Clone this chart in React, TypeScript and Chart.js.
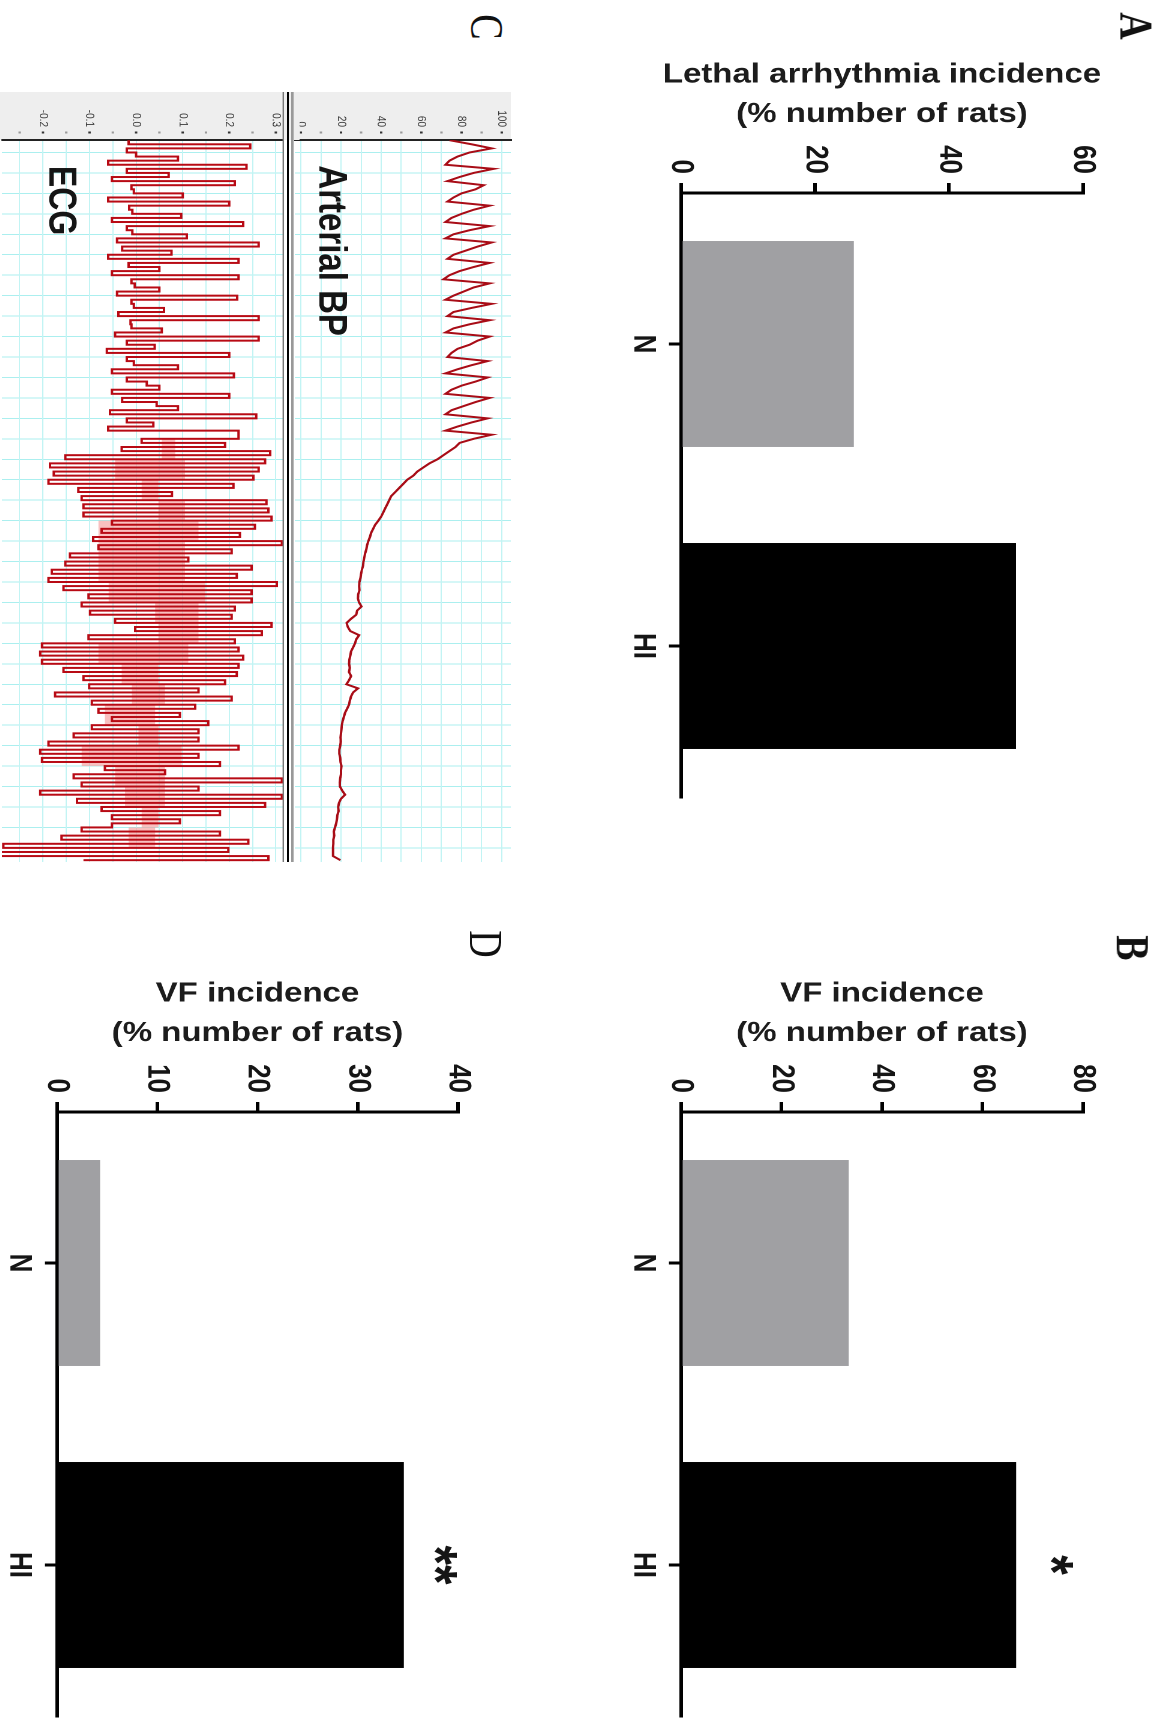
import React, { useEffect, useRef } from "react";
import { Chart, registerables } from "chart.js";

Chart.register(...registerables);

// ---------- bar panels ----------
const groups = ["N", "HI"];
const lethalValues = [25.8, 50];
const vfValuesB = [33.4, 66.7];
const vfValuesD = [4.3, 34.6];
const barColors = ["#a0a0a3", "#000000"];
const lethalTitle = ["Lethal arrhythmia incidence", "(% number of rats)"];
const vfTitle = ["VF incidence", "(% number of rats)"];

// ---------- trace panel (time in grid divisions, one sample every 0.2) ----------
const TRACE_START = -0.6;
const TRACE_STEP = 0.2;
const bpValues = [
  74, 85, 95, 84, 78, 74, 72, 96, 86, 79, 73, 91, 87, 80, 76, 73, 94, 86, 80, 75, 72, 94, 84, 76, 72,
  95, 88, 82, 76, 73, 94, 86, 79, 74, 71, 94, 86, 81, 76, 72, 95, 85, 76, 73, 94, 84, 76, 72,
  94, 88, 84, 78, 75, 73, 93, 85, 78, 72, 93, 87, 80, 75, 72, 94, 87, 81, 75, 72, 93, 85, 78, 72,
  95, 86, 79, 77, 74, 71, 68, 64, 61, 58, 56, 53, 51, 49, 47, 45, 44, 43, 42, 41, 40, 38.6, 37, 36, 35,
  34.4, 33.6, 33, 32.6, 32, 31.6, 31.2, 31, 30.4, 30, 29.7, 29.2, 29, 29.2, 28.6, 28.4, 29, 30.2, 28, 27.6,
  25, 22.8, 23.4, 24.6, 29, 27.6, 27, 26, 25, 24.6, 24.2, 24, 24.4, 24, 25, 24, 22.7, 28.5, 26, 25, 24.4,
  24, 23, 22, 21.4, 20.8, 20.4, 20.2, 20, 19.8, 19.9, 19.6, 19.2, 19.2, 19.6, 19.8, 20.2, 20, 20, 19.6,
  19.4, 19.5, 20.6, 22, 20, 19, 18.6, 18.8, 18.2, 18, 17.6, 17, 16.4, 16.6, 16.2, 16.2, 16, 16, 16, 19.7,
];
const ecgValues = [
  -0.016, 0.245, -0.02, 0.0, 0.09, -0.06, 0.237, -0.02, 0.07, -0.052, 0.212, -0.01, -0.005, 0.1, -0.06, 0.2,
  -0.015, -0.008, 0.097, -0.052, 0.23, -0.02, -0.008, 0.109, -0.041, 0.263, -0.03, 0.076, -0.06, 0.22,
  -0.016, 0.05, -0.052, 0.22, -0.01, -0.003, 0.05, -0.041, 0.217, -0.01, -0.005, 0.06, -0.038, 0.263,
  -0.012, -0.01, 0.055, -0.045, 0.263, -0.02, 0.04, -0.063, 0.2, -0.02, -0.005, 0.09, -0.052, 0.21,
  -0.02, 0.023, 0.05, -0.052, 0.2, -0.03, 0.044, 0.09, -0.056, 0.258, -0.02, 0.037, -0.06, 0.22,
  0.22, 0.012, 0.191, -0.031, 0.288, -0.152, 0.277, -0.185, 0.263, -0.177, 0.252, -0.188, 0.209, -0.124,
  0.077, -0.117, 0.28, -0.113, 0.284, -0.113, 0.291, -0.052, 0.255, -0.074, 0.223, -0.092, 0.313, -0.081,
  0.205, -0.142, 0.112, -0.152, 0.248, -0.181, 0.216, -0.188,
  0.302, -0.156, 0.248, -0.102, 0.248, -0.117, 0.212, -0.099, 0.205, -0.045, 0.291, -0.002, 0.27, -0.102,
  0.212, -0.202, 0.22, -0.206, 0.23, -0.202, 0.22, -0.156, 0.216, -0.113, 0.191, -0.101, 0.134, -0.174,
  0.205, -0.095, 0.127, -0.081, 0.094, -0.052, 0.155, -0.095, 0.134, -0.134, 0.134, -0.188, 0.22, -0.206,
  0.134, -0.202, 0.18,
  -0.067, 0.062, -0.134, 0.313, -0.117, 0.134, -0.206, 0.313, -0.127, 0.277, -0.074, 0.18, -0.052, 0.094,
  -0.052, -0.117, 0.18, -0.16, 0.241, -0.285, 0.198, -0.292, 0.284, -0.113,
];
// dense pink band of the fibrillation part, one pair per grid division
const SHADE_START = 14;
const ecgShadeHigh = [0.084, 0.105, 0.048, 0.105, 0.134, 0.105, 0.105, 0.148, 0.134, 0.134, 0.112, 0.048, 0.062, 0.041, 0.048, 0.098, 0.062, 0.062, 0.048, 0.041, 0.105];
const ecgShadeLow = [0.055, -0.045, 0.012, 0.048, -0.081, -0.081, -0.081, -0.059, 0.041, 0.048, -0.081, -0.031, -0.009, -0.067, 0.005, -0.117, -0.045, -0.024, 0.012, -0.016, -0.117];

const SANS = "'Liberation Sans', Arial, sans-serif";
const SERIF = "'Liberation Serif', serif";
const INK = "#151515";
const GRID_TIME = "#abefef";
const GRID_VALUE = "#c2f4f4";

type Mark = { text: string; x: number; y: number; size: number; weight?: string; dy?: number };

function marksPlugin(marks: Mark[]) {
  return {
    id: "textMarks",
    afterDatasetsDraw(chart: any) {
      const { ctx, scales } = chart;
      ctx.save();
      ctx.fillStyle = INK;
      ctx.textAlign = "center";
      ctx.textBaseline = "middle";
      for (const m of marks) {
        ctx.font = `${m.weight || "normal"} ${m.size}px ${SANS}`;
        ctx.fillText(m.text, scales.x.getPixelForValue(m.x), scales.y.getPixelForValue(m.y) + (m.dy || 0));
      }
      ctx.restore();
    },
  };
}

function barConfig(values: number[], title: string[], max: number, step: number, padTop: number, marks: Mark[], padRight: number) {
  return {
    type: "bar",
    data: {
      labels: groups,
      datasets: [{ data: values, backgroundColor: barColors, borderWidth: 0, categoryPercentage: 1, barPercentage: 0.682 }],
    },
    plugins: [marksPlugin(marks)],
    options: {
      animation: false,
      responsive: false,
      devicePixelRatio: 2,
      layout: { padding: { top: padTop, right: padRight, left: 0, bottom: 0 } },
      plugins: { legend: { display: false }, tooltip: { enabled: false }, title: { display: false } },
      scales: {
        x: {
          offset: true,
          grid: { offset: false, drawOnChartArea: false, color: "#000", lineWidth: 3, tickLength: 10 },
          border: { color: "#000", width: 3 },
          ticks: { color: INK, font: { family: SANS, size: 26, weight: "bold" }, padding: 6, maxRotation: 0, minRotation: 0, autoSkip: false },
          afterFit: (s: any) => { s.height = 65.8; },
        },
        y: {
          min: 0,
          max,
          grid: { drawOnChartArea: false, color: "#000", lineWidth: 3, tickLength: 10 },
          border: { color: "#000", width: 3 },
          ticks: { stepSize: step, color: INK, font: { family: SANS, size: 26, weight: "bold" }, padding: 9, autoSkip: false },
          title: {
            display: true,
            text: title,
            color: "#1c1c1c",
            font: { family: SANS, size: 27.5, weight: "bold", lineHeight: 1.43 },
            padding: { top: 55.5, bottom: 0 },
          },
          afterFit: (s: any) => { s.width = 193; },
        },
      },
    },
  };
}

function traceExtras(separators: boolean) {
  return {
    id: "traceExtras",
    beforeDraw(chart: any) {
      const { ctx, chartArea, height } = chart;
      const top = separators ? 0 : chartArea.top;
      ctx.save();
      ctx.fillStyle = "#eeeeee";
      ctx.fillRect(0, top, chartArea.left, height - top);
      ctx.restore();
    },
    afterDraw(chart: any) {
      const { ctx, chartArea, scales } = chart;
      ctx.save();
      for (const t of scales.y.ticks) {
        ctx.fillStyle = t.label ? "#333333" : "#999999";
        ctx.fillRect(chartArea.left - 8.5, scales.y.getPixelForValue(t.value) - 1, 2, 2);
      }
      if (separators) {
        const top = chartArea.top;
        ctx.fillStyle = "#777777";
        ctx.fillRect(0, top - 1, chartArea.right, 1.2);
        ctx.fillStyle = "#000000";
        ctx.fillRect(0, top - 5, chartArea.right, 1.5);
        ctx.fillStyle = "#999999";
        ctx.fillRect(0, top - 9, chartArea.right, 2);
      }
      ctx.restore();
    },
  };
}

const toPoints = (vals: number[], start: number, step: number) => vals.map((y, i) => ({ x: start + i * step, y }));
// the plot runs a little past the last labelled tick: restore its range and drop the ticks beyond it
const clampScale = (lo: number, hi: number) => (s: any) => {
  s.min = lo;
  s.max = hi;
  s.ticks = s.ticks.filter((t: any) => t.value >= lo && t.value <= hi);
};

const T_MIN = -0.61;
const T_MAX = 34.69;

function traceConfig(datasets: any[], yMin: number, yMax: number, yStep: number, isMajor: (v: number) => boolean, fmt: (v: number) => string, marks: Mark[], separators: boolean) {
  return {
    type: "line",
    data: { datasets },
    plugins: [traceExtras(separators), marksPlugin(marks)],
    options: {
      animation: false,
      responsive: false,
      devicePixelRatio: 2,
      layout: { padding: { top: 14, bottom: 14, right: 8, left: 0 } },
      plugins: { legend: { display: false }, tooltip: { enabled: false } },
      elements: { point: { radius: 0 } },
      scales: {
        x: {
          type: "linear",
          min: T_MIN,
          max: T_MAX,
          ticks: { display: false, stepSize: 1, includeBounds: false },
          grid: { color: GRID_TIME, borderDash: [6, 5], lineWidth: 1, drawTicks: false },
          border: { display: false },
          afterBuildTicks: clampScale(T_MIN, T_MAX),
          afterFit: (s: any) => { s.height = 0; },
        },
        y: {
          min: yMin,
          max: yMax,
          ticks: {
            stepSize: yStep,
            includeBounds: false,
            autoSkip: false,
            color: "#3a3a3a",
            font: { family: SANS, size: 10 },
            padding: 5,
            callback: (v: number) => (isMajor(v) ? fmt(v) : ""),
          },
          grid: { color: GRID_VALUE, borderDash: [4, 4], lineWidth: 1, tickColor: "rgba(0,0,0,0)", tickLength: 8 },
          border: { display: true, color: "#222222", width: 2 },
          afterBuildTicks: clampScale(yMin, yMax),
          afterFit: (s: any) => { s.width = 48; },
        },
      },
    },
  };
}

const bpConfig = traceConfig(
  [{ data: toPoints(bpValues, TRACE_START, TRACE_STEP), borderColor: "#a80c16", borderWidth: 2, tension: 0 }],
  -3, 104.5, 10,
  (v) => Math.round(v) % 20 === 0,
  (v) => String(Math.round(v)),
  [{ text: "Arterial BP", x: 4.8, y: 14.7, size: 33, weight: "bold" }],
  false,
);

const ecgConfig = traceConfig(
  [
    { data: toPoints(ecgValues, TRACE_START, TRACE_STEP), borderColor: "#b80a14", borderWidth: 2, stepped: true },
    { data: toPoints(ecgShadeHigh, SHADE_START, 1), borderWidth: 0, stepped: true, fill: "+1", backgroundColor: "rgba(245,150,150,0.6)" },
    { data: toPoints(ecgShadeLow, SHADE_START, 1), borderWidth: 0, stepped: true },
  ],
  -0.288, 0.315, 0.05,
  (v) => Math.abs(v * 10 - Math.round(v * 10)) < 1e-6,
  (v) => (Math.round(v * 10) / 10).toFixed(1),
  [{ text: "ECG", x: 2.35, y: -0.164, size: 32, weight: "bold" }],
  true,
);

const panels = [
  { key: "A", left: 0, top: 0, width: 810, height: 465, config: barConfig(lethalValues, lethalTitle, 60, 20, 64.2, [], 13) },
  { key: "B", left: 919, top: 0, width: 800, height: 465, config: barConfig(vfValuesB, vfTitle, 80, 20, 64.2, [{ text: "*", x: 1, y: 76.4, size: 50, weight: "bold", dy: 14 }], 3) },
  { key: "D", left: 919, top: 520, width: 800, height: 465, config: barConfig(vfValuesD, vfTitle, 40, 10, 65, [{ text: "**", x: 1, y: 39.1, size: 50, weight: "bold", dy: 14 }], 3) },
  { key: "BP", left: 92, top: 526.8, width: 778, height: 208, config: bpConfig },
  { key: "ECG", left: 92, top: 716.8, width: 778, height: 262.2, config: ecgConfig },
];

const letters = [
  { text: "A", u: 26, v: 20, weight: "bold" },
  { text: "B", u: 948, v: 22.5, weight: "bold" },
  { text: "C", u: 27, v: 561, weight: "normal" },
  { text: "D", u: 944, v: 562, weight: "normal" },
];

function Panel({ p }: { p: any }) {
  const ref = useRef<HTMLCanvasElement | null>(null);
  useEffect(() => {
    const chart = new Chart(ref.current as HTMLCanvasElement, p.config);
    return () => chart.destroy();
  }, [p]);
  return (
    <div style={{ position: "absolute", left: p.left, top: p.top, width: p.width, height: p.height }}>
      <canvas ref={ref} width={p.width} height={p.height} />
    </div>
  );
}

export default function App() {
  return (
    <div style={{ position: "absolute", left: 0, top: 0, width: 1160, height: 1719, overflow: "hidden", background: "#fff" }}>
      <div
        style={{
          position: "absolute",
          left: 0,
          top: 0,
          width: 1719,
          height: 967,
          transformOrigin: "0 0",
          transform: "translate(1160px, 0) scale(1.2, 1) rotate(90deg)",
        }}
      >
        {panels.map((p) => (
          <Panel key={p.key} p={p} />
        ))}
        {letters.map((l) => (
          <span
            key={l.text}
            style={{
              position: "absolute",
              left: l.u,
              top: l.v,
              transform: "translate(-50%, -50%)",
              font: `${l.weight} 38px ${SERIF}`,
              color: "#111",
            }}
          >
            {l.text}
          </span>
        ))}
      </div>
    </div>
  );
}
